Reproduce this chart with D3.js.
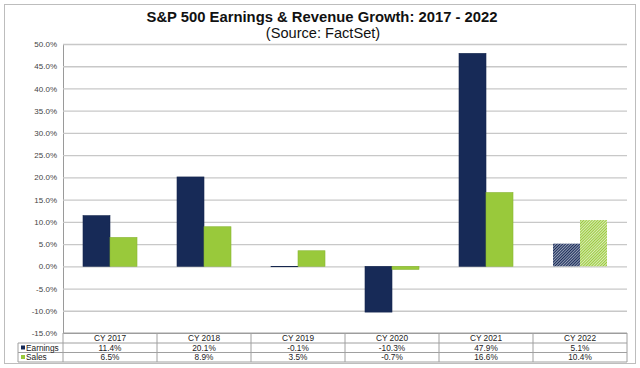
<!DOCTYPE html>
<html><head><meta charset="utf-8">
<script src="https://cdn.jsdelivr.net/npm/d3@7"></script>
<style>body{margin:0;background:#fff}svg{display:block}text{font-family:Arial,"Liberation Sans",sans-serif}</style>
</head><body><svg id="c" width="640" height="368"></svg>
<script>
const categories = ["CY 2017","CY 2018","CY 2019","CY 2020","CY 2021","CY 2022"];
const earnings = [11.4, 20.1, -0.1, -10.3, 47.9, 5.1];
const sales = [6.5, 8.9, 3.5, -0.7, 16.6, 10.4];
const estimated = [false,false,false,false,false,true];
const yTicks = [50,45,40,35,30,25,20,15,10,5,0,-5,-10,-15];
const seriesNames = ["Earnings","Sales"];
const seriesColors = ["#172a57","#99c93b"];

const svg = d3.select("#c");
const L = 63, R = 627, T = 44, B = 333;
const x = d3.scaleBand().domain(categories).range([L, R]);
const y = d3.scaleLinear().domain([-15, 50]).range([B, T]);
const inner = d3.scaleBand().domain([0,1]).range([0, 54]);

// outer border
svg.append("rect").attr("x",4.5).attr("y",4.5).attr("width",631).attr("height",359)
  .attr("fill","none").attr("stroke","#bdbdbd");

// title
svg.append("text").attr("x",322).attr("y",22).attr("text-anchor","middle")
  .attr("font-size",14.8).attr("font-weight","bold").attr("fill","#111").text("S&P 500 Earnings & Revenue Growth: 2017 - 2022");
svg.append("text").attr("x",323).attr("y",37.5).attr("text-anchor","middle")
  .attr("font-size",14.6).attr("fill","#111").text("(Source: FactSet)");

// patterns
const defs = svg.append("defs");
seriesColors.forEach((c,i)=>{
  const p = defs.append("pattern").attr("id","hatch"+i).attr("patternUnits","userSpaceOnUse")
    .attr("width",2).attr("height",2).attr("patternTransform","rotate(45)");
  p.append("rect").attr("width",2).attr("height",2).attr("fill", i===0 ? "#9aa2b8" : "#dcedb9");
  p.append("rect").attr("width",1).attr("height",2).attr("fill", c);
});

// gridlines
const yAxis = d3.axisLeft(y).tickValues(yTicks).tickSize(-(R-L)).tickFormat(d=>d.toFixed(1)+"%").tickPadding(6);
const ga = svg.append("g").attr("transform",`translate(${L},0)`).call(yAxis);
ga.select(".domain").attr("stroke","#9a9a9a");
ga.selectAll(".tick line").attr("stroke","#c8c8c8").attr("stroke-width",1.3);
ga.selectAll(".tick text").attr("font-size",8).attr("fill","#444").attr("font-family","Arial, Liberation Sans, sans-serif");
ga.selectAll(".tick").filter(d=>d===-15).select("line").remove();

// bars
const series = [earnings, sales];
categories.forEach((cat,ci)=>{
  series.forEach((vals,si)=>{
    const v = vals[ci];
    const bx = x(cat) + 20 + inner(si);
    svg.append("rect").attr("x",bx).attr("width",inner.bandwidth())
      .attr("y", y(Math.max(0,v))).attr("height", Math.abs(y(v)-y(0)))
      .attr("fill", estimated[ci] ? `url(#hatch${si})` : seriesColors[si])
      .attr("stroke", estimated[ci] ? "none" : d3.color(seriesColors[si]).darker(0.3)).attr("stroke-width",0.6);
  });
});

// table
const rowsY = [333, 343, 352.5, 362];
const tg = svg.append("g");
const lineC = "#a0a0a0";
tg.append("line").attr("x1",L).attr("x2",R).attr("y1",rowsY[0]).attr("y2",rowsY[0]).attr("stroke",lineC);
[1,2,3].forEach(i=>tg.append("line").attr("x1",18).attr("x2",R).attr("y1",rowsY[i]).attr("y2",rowsY[i]).attr("stroke",lineC));
tg.append("line").attr("x1",18).attr("x2",18).attr("y1",rowsY[1]).attr("y2",rowsY[3]).attr("stroke",lineC);
[L, ...categories.map(c=>x(c)+x.bandwidth())].forEach(xx=>
  tg.append("line").attr("x1",xx).attr("x2",xx).attr("y1",rowsY[0]).attr("y2",rowsY[3]).attr("stroke",lineC));
categories.forEach((cat,ci)=>{
  const cx = x(cat)+x.bandwidth()/2;
  tg.append("text").attr("x",cx).attr("y",341).attr("text-anchor","middle").attr("font-size",8.3).attr("fill","#222").text(cat);
  tg.append("text").attr("x",cx).attr("y",350.5).attr("text-anchor","middle").attr("font-size",8.3).attr("fill","#222").text(earnings[ci].toFixed(1)+"%");
  tg.append("text").attr("x",cx).attr("y",360).attr("text-anchor","middle").attr("font-size",8.3).attr("fill","#222").text(sales[ci].toFixed(1)+"%");
});
seriesNames.forEach((n,i)=>{
  const yy = i===0 ? 350.5 : 360;
  tg.append("rect").attr("x",21).attr("y",yy-5).attr("width",4).attr("height",4).attr("fill",seriesColors[i]);
  tg.append("text").attr("x",26).attr("y",yy).attr("font-size",8.3).attr("fill","#222").text(n);
});
</script></body></html>
